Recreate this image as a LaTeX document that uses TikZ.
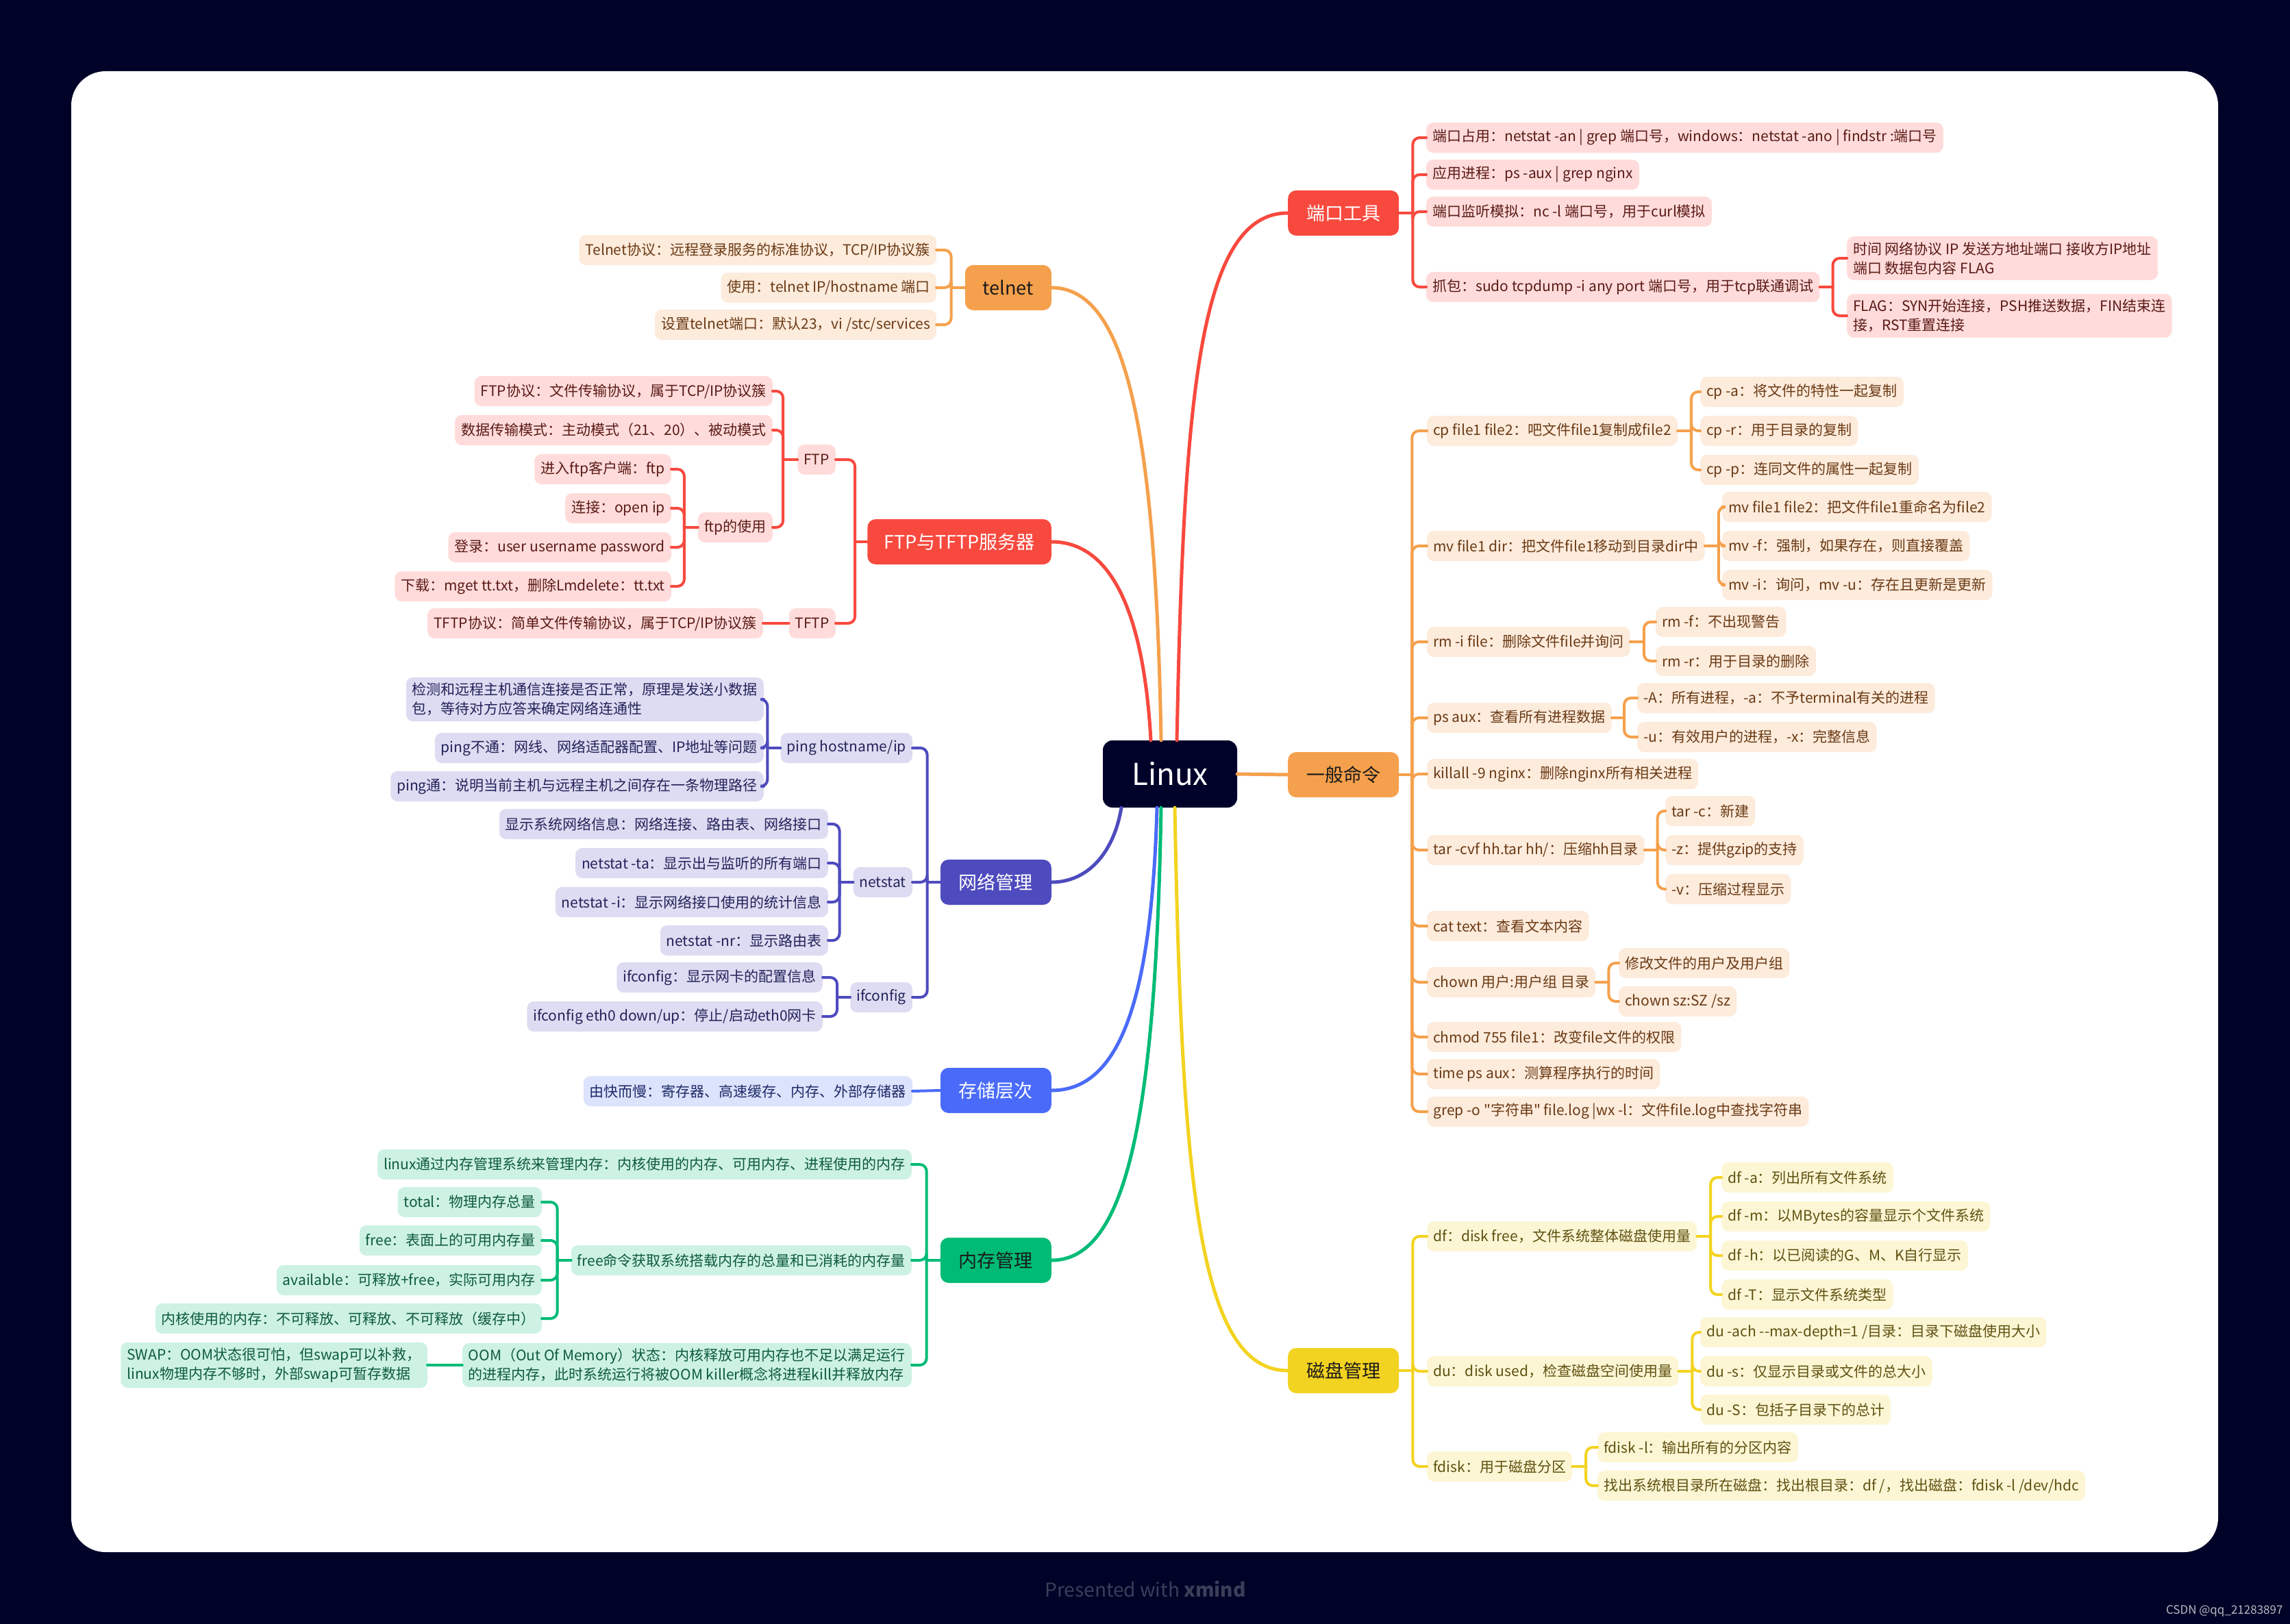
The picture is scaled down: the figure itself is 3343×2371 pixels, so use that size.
\documentclass[tikz,border=0pt]{standalone}
\usepackage{fontspec}
\setmainfont{Noto Sans CJK SC}[Ligatures=TeXOff]
\definecolor{bgnavy}{HTML}{000228}
\definecolor{rootc}{HTML}{00022A}
\definecolor{redm}{HTML}{F8493E}
\definecolor{redlt}{HTML}{FFDCDB}
\definecolor{redtx}{HTML}{5A1A16}
\definecolor{orgm}{HTML}{F5A04C}
\definecolor{orglt}{HTML}{FDEBDC}
\definecolor{orgtx}{HTML}{6A3A14}
\definecolor{yelm}{HTML}{F3D321}
\definecolor{yellt}{HTML}{FDF6D5}
\definecolor{yeltx}{HTML}{5E5110}
\definecolor{indm}{HTML}{4E4BBE}
\definecolor{indlt}{HTML}{DDDCF2}
\definecolor{indtx}{HTML}{23225A}
\definecolor{blum}{HTML}{4A6BF9}
\definecolor{blult}{HTML}{DCE3FD}
\definecolor{blutx}{HTML}{1E2A66}
\definecolor{grnm}{HTML}{00BB76}
\definecolor{grnlt}{HTML}{CDF2E4}
\definecolor{grntx}{HTML}{0E5A3C}
\definecolor{darktx}{HTML}{1A1A1A}
\definecolor{footgray}{HTML}{3B3E58}
\definecolor{csdngray}{HTML}{B8B8C0}
\tikzset{
    leaf/.style={rectangle, rounded corners=10pt, minimum height=44pt, inner xsep=9pt, inner ysep=8pt, align=left, font=\fontsize{21}{28}\selectfont},
    rleaf/.style={leaf, fill=redlt, text=redtx},
    oleaf/.style={leaf, fill=orglt, text=orgtx},
    yleaf/.style={leaf, fill=yellt, text=yeltx},
    ileaf/.style={leaf, fill=indlt, text=indtx},
    bleaf/.style={leaf, fill=blult, text=blutx},
    gleaf/.style={leaf, fill=grnlt, text=grntx},
    topic/.style={rectangle, rounded corners=12pt, minimum width=162pt, minimum height=66pt, inner xsep=24pt, font=\fontsize{27}{30}\selectfont},
    link/.style={line width=4pt, line cap=round, rounded corners=10pt},
    mainlink/.style={line width=5pt, line cap=round}
}
\begin{document}
\begin{tikzpicture}[x=1pt, y=-1pt]
    \useasboundingbox (0,0) rectangle (3343,2371);
    \fill[bgnavy] (0,0) rectangle (3343,2371);
    \fill[white, rounded corners=50pt] (104,104) rectangle (3238,2266);

    % root and main topics
    \node[fill=rootc, text=white, rounded corners=14pt, minimum width=196pt, minimum height=98pt, font=\fontsize{44}{48}\selectfont] (linux) at (1708,1130) {Linux};
    \node[topic, fill=redm, text=white, anchor=west] (port) at (1880,311) {端口工具};
    \node[topic, fill=orgm, text=darktx, anchor=west] (cmd) at (1880,1131) {一般命令};
    \node[topic, fill=yelm, text=darktx, anchor=west] (disk) at (1880,2001) {磁盘管理};
    \node[topic, fill=orgm, text=darktx, anchor=east, minimum width=126pt] (telnet) at (1535,420) {telnet};
    \node[topic, fill=redm, text=white, anchor=east] (ftp) at (1535,791) {FTP与TFTP服务器};
    \node[topic, fill=indm, text=white, anchor=east] (net) at (1535,1288) {网络管理};
    \node[topic, fill=blum, text=white, anchor=east] (store) at (1535,1592) {存储层次};
    \node[topic, fill=grnm, text=darktx, anchor=east] (mem) at (1535,1840) {内存管理};

    % 端口工具
    \node[rleaf, anchor=west] (port1) at (2082,201) {端口占用：netstat -an | grep 端口号，windows：netstat -ano | findstr :端口号};
    \node[rleaf, anchor=west] (port2) at (2082,255) {应用进程：ps -aux | grep nginx};
    \node[rleaf, anchor=west] (port3) at (2082,309) {端口监听模拟：nc -l 端口号，用于curl模拟};
    \node[rleaf, anchor=west] (port4) at (2082,419) {抓包：sudo tcpdump -i any port 端口号，用于tcp联通调试};
    \node[rleaf, anchor=west] (port4a) at (2696,377) {时间 网络协议 IP 发送方地址端口 接收方IP地址\\端口 数据包内容 FLAG};
    \node[rleaf, anchor=west] (port4b) at (2696,461) {FLAG：SYN开始连接，PSH推送数据，FIN结束连\\接，RST重置连接};

    % 一般命令
    \node[oleaf, anchor=west] (cmd1) at (2083,629) {cp file1 file2：吧文件file1复制成file2};
    \node[oleaf, anchor=west] (cmd1a) at (2482,572) {cp -a：将文件的特性一起复制};
    \node[oleaf, anchor=west] (cmd1b) at (2482,629) {cp -r：用于目录的复制};
    \node[oleaf, anchor=west] (cmd1c) at (2482,686) {cp -p：连同文件的属性一起复制};
    \node[oleaf, anchor=west] (cmd2) at (2083,797) {mv file1 dir：把文件file1移动到目录dir中};
    \node[oleaf, anchor=west] (cmd2a) at (2514,740) {mv file1 file2：把文件file1重命名为file2};
    \node[oleaf, anchor=west] (cmd2b) at (2514,797) {mv -f：强制，如果存在，则直接覆盖};
    \node[oleaf, anchor=west] (cmd2c) at (2514,854) {mv -i：询问，mv -u：存在且更新是更新};
    \node[oleaf, anchor=west] (cmd3) at (2083,937) {rm -i file：删除文件file并询问};
    \node[oleaf, anchor=west] (cmd3a) at (2417,908) {rm -f：不出现警告};
    \node[oleaf, anchor=west] (cmd3b) at (2417,965) {rm -r：用于目录的删除};
    \node[oleaf, anchor=west] (cmd4) at (2083,1048) {ps aux：查看所有进程数据};
    \node[oleaf, anchor=west] (cmd4a) at (2390,1019) {-A：所有进程，-a：不予terminal有关的进程};
    \node[oleaf, anchor=west] (cmd4b) at (2390,1076) {-u：有效用户的进程，-x：完整信息};
    \node[oleaf, anchor=west] (cmd5) at (2083,1130) {killall -9 nginx：删除nginx所有相关进程};
    \node[oleaf, anchor=west] (cmd6) at (2083,1241) {tar -cvf hh.tar hh/：压缩hh目录};
    \node[oleaf, anchor=west] (cmd6a) at (2431,1184) {tar -c：新建};
    \node[oleaf, anchor=west] (cmd6b) at (2431,1241) {-z：提供gzip的支持};
    \node[oleaf, anchor=west] (cmd6c) at (2431,1298) {-v：压缩过程显示};
    \node[oleaf, anchor=west] (cmd7) at (2083,1352) {cat text：查看文本内容};
    \node[oleaf, anchor=west] (cmd8) at (2083,1434) {chown 用户:用户组 目录};
    \node[oleaf, anchor=west] (cmd8a) at (2363,1406) {修改文件的用户及用户组};
    \node[oleaf, anchor=west] (cmd8b) at (2363,1462) {chown sz:SZ /sz};
    \node[oleaf, anchor=west] (cmd9) at (2083,1514) {chmod 755 file1：改变file文件的权限};
    \node[oleaf, anchor=west] (cmd10) at (2083,1568) {time ps aux：测算程序执行的时间};
    \node[oleaf, anchor=west] (cmd11) at (2083,1623) {grep -o "字符串" file.log |wx -l：文件file.log中查找字符串};

    % 磁盘管理
    \node[yleaf, anchor=west] (disk1) at (2083,1805) {df：disk free，文件系统整体磁盘使用量};
    \node[yleaf, anchor=west] (disk1a) at (2513,1719) {df -a：列出所有文件系统};
    \node[yleaf, anchor=west] (disk1b) at (2513,1776) {df -m：以MBytes的容量显示个文件系统};
    \node[yleaf, anchor=west] (disk1c) at (2513,1833) {df -h：以已阅读的G、M、K自行显示};
    \node[yleaf, anchor=west] (disk1d) at (2513,1890) {df -T：显示文件系统类型};
    \node[yleaf, anchor=west] (disk2) at (2083,2002) {du：disk used，检查磁盘空间使用量};
    \node[yleaf, anchor=west] (disk2a) at (2482,1945) {du -ach --max-depth=1 /目录：目录下磁盘使用大小};
    \node[yleaf, anchor=west] (disk2b) at (2482,2002) {du -s：仅显示目录或文件的总大小};
    \node[yleaf, anchor=west] (disk2c) at (2482,2058) {du -S：包括子目录下的总计};
    \node[yleaf, anchor=west] (disk3) at (2083,2141) {fdisk：用于磁盘分区};
    \node[yleaf, anchor=west] (disk3a) at (2332,2113) {fdisk -l：输出所有的分区内容};
    \node[yleaf, anchor=west] (disk3b) at (2332,2169) {找出系统根目录所在磁盘：找出根目录：df /，找出磁盘：fdisk -l /dev/hdc};

    % telnet
    \node[oleaf, anchor=east] (telnet1) at (1367,365) {Telnet协议：远程登录服务的标准协议，TCP/IP协议簇};
    \node[oleaf, anchor=east] (telnet2) at (1367,420) {使用：telnet IP/hostname 端口};
    \node[oleaf, anchor=east] (telnet3) at (1367,474) {设置telnet端口：默认23，vi /stc/services};

    % FTP与TFTP服务器
    \node[rleaf, anchor=east] (ftpA) at (1220,671) {FTP};
    \node[rleaf, anchor=east] (ftpA1) at (1128,571) {FTP协议：文件传输协议，属于TCP/IP协议簇};
    \node[rleaf, anchor=east] (ftpA2) at (1128,628) {数据传输模式：主动模式（21、20）、被动模式};
    \node[rleaf, anchor=east] (ftpA3) at (1128,770) {ftp的使用};
    \node[rleaf, anchor=east] (ftpA31) at (980,685) {进入ftp客户端：ftp};
    \node[rleaf, anchor=east] (ftpA32) at (980,742) {连接：open ip};
    \node[rleaf, anchor=east] (ftpA33) at (980,799) {登录：user username password};
    \node[rleaf, anchor=east] (ftpA34) at (980,856) {下载：mget tt.txt，删除Lmdelete：tt.txt};
    \node[rleaf, anchor=east] (ftpB) at (1220,910) {TFTP};
    \node[rleaf, anchor=east] (ftpB1) at (1114,910) {TFTP协议：简单文件传输协议，属于TCP/IP协议簇};

    % 网络管理
    \node[ileaf, anchor=east] (netA) at (1332,1092) {ping hostname/ip};
    \node[ileaf, anchor=east] (netA1) at (1115,1021) {检测和远程主机通信连接是否正常，原理是发送小数据\\包，等待对方应答来确定网络连通性};
    \node[ileaf, anchor=east] (netA2) at (1115,1092) {ping不通：网线、网络适配器配置、IP地址等问题};
    \node[ileaf, anchor=east] (netA3) at (1115,1148) {ping通：说明当前主机与远程主机之间存在一条物理路径};
    \node[ileaf, anchor=east] (netB) at (1332,1288) {netstat};
    \node[ileaf, anchor=east] (netB1) at (1209,1203) {显示系统网络信息：网络连接、路由表、网络接口};
    \node[ileaf, anchor=east] (netB2) at (1209,1260) {netstat -ta：显示出与监听的所有端口};
    \node[ileaf, anchor=east] (netB3) at (1209,1317) {netstat -i：显示网络接口使用的统计信息};
    \node[ileaf, anchor=east] (netB4) at (1209,1373) {netstat -nr：显示路由表};
    \node[ileaf, anchor=east] (netC) at (1332,1456) {ifconfig};
    \node[ileaf, anchor=east] (netC1) at (1201,1427) {ifconfig：显示网卡的配置信息};
    \node[ileaf, anchor=east] (netC2) at (1201,1484) {ifconfig eth0 down/up：停止/启动eth0网卡};

    % 存储层次
    \node[bleaf, anchor=east] (store1) at (1332,1593) {由快而慢：寄存器、高速缓存、内存、外部存储器};

    % 内存管理
    \node[gleaf, anchor=east] (mem1) at (1331,1700) {linux通过内存管理系统来管理内存：内核使用的内存、可用内存、进程使用的内存};
    \node[gleaf, anchor=east] (mem2) at (1331,1840) {free命令获取系统搭载内存的总量和已消耗的内存量};
    \node[gleaf, anchor=east] (mem2a) at (791,1755) {total：物理内存总量};
    \node[gleaf, anchor=east] (mem2b) at (791,1811) {free：表面上的可用内存量};
    \node[gleaf, anchor=east] (mem2c) at (791,1869) {available：可释放+free，实际可用内存};
    \node[gleaf, anchor=east] (mem2d) at (791,1925) {内核使用的内存：不可释放、可释放、不可释放（缓存中）};
    \node[gleaf, anchor=east] (mem3) at (1331,1993) {OOM（Out Of Memory）状态：内核释放可用内存也不足以满足运行\\的进程内存，此时系统运行将被OOM killer概念将进程kill并释放内存};
    \node[gleaf, anchor=east] (mem3a) at (624,1993) {SWAP：OOM状态很可怕，但swap可以补救，\\linux物理内存不够时，外部swap可暂存数据};

    % root links
    \draw[mainlink, draw=redm] ([xshift=10pt]linux.north) .. controls +(10,-500) and +(-130,0) .. (port.west);
    \draw[mainlink, draw=orgm] (linux.east) -- (cmd.west);
    \draw[mainlink, draw=yelm] ([xshift=7pt]linux.south) .. controls +(10,550) and +(-130,0) .. (disk.west);
    \draw[mainlink, draw=orgm] ([xshift=-13pt]linux.north) .. controls +(-8,-450) and +(110,0) .. (telnet.east);
    \draw[mainlink, draw=redm] ([xshift=-28pt]linux.north) .. controls +(-10,-180) and +(90,0) .. (ftp.east);
    \draw[mainlink, draw=indm] ([xshift=-71pt]linux.south) .. controls +(-12,70) and +(50,0) .. (net.east);
    \draw[mainlink, draw=blum] ([xshift=-19pt]linux.south) .. controls +(-8,280) and +(100,0) .. (store.east);
    \draw[mainlink, draw=grnm] ([xshift=-13pt]linux.south) .. controls +(-8,450) and +(110,0) .. (mem.east);

    % branch links, right side
    \draw[link, draw=redm] (port.east) -- ++(20,0) coordinate (port-j);
    \foreach \c in {port1,port2,port3,port4} \draw[link, draw=redm] (port-j) |- (\c.west);
    \draw[link, draw=redm] (port4.east) -- ++(19,0) coordinate (port4-j);
    \foreach \c in {port4a,port4b} \draw[link, draw=redm] (port4-j) |- (\c.west);

    \draw[link, draw=orgm] (cmd.east) -- ++(19,0) coordinate (cmd-j);
    \foreach \c in {cmd1,cmd2,cmd3,cmd4,cmd5,cmd6,cmd7,cmd8,cmd9,cmd10,cmd11} \draw[link, draw=orgm] (cmd-j) |- (\c.west);
    \draw[link, draw=orgm] (cmd1.east) -- ++(20,0) coordinate (cmd1-j);
    \foreach \c in {cmd1a,cmd1b,cmd1c} \draw[link, draw=orgm] (cmd1-j) |- (\c.west);
    \draw[link, draw=orgm] (cmd2.east) -- ++(20,0) coordinate (cmd2-j);
    \foreach \c in {cmd2a,cmd2b,cmd2c} \draw[link, draw=orgm] (cmd2-j) |- (\c.west);
    \draw[link, draw=orgm] (cmd3.east) -- ++(20,0) coordinate (cmd3-j);
    \foreach \c in {cmd3a,cmd3b} \draw[link, draw=orgm] (cmd3-j) |- (\c.west);
    \draw[link, draw=orgm] (cmd4.east) -- ++(18,0) coordinate (cmd4-j);
    \foreach \c in {cmd4a,cmd4b} \draw[link, draw=orgm] (cmd4-j) |- (\c.west);
    \draw[link, draw=orgm] (cmd6.east) -- ++(19,0) coordinate (cmd6-j);
    \foreach \c in {cmd6a,cmd6b,cmd6c} \draw[link, draw=orgm] (cmd6-j) |- (\c.west);
    \draw[link, draw=orgm] (cmd8.east) -- ++(19,0) coordinate (cmd8-j);
    \foreach \c in {cmd8a,cmd8b} \draw[link, draw=orgm] (cmd8-j) |- (\c.west);

    \draw[link, draw=yelm] (disk.east) -- ++(20,0) coordinate (disk-j);
    \foreach \c in {disk1,disk2,disk3} \draw[link, draw=yelm] (disk-j) |- (\c.west);
    \draw[link, draw=yelm] (disk1.east) -- ++(20,0) coordinate (disk1-j);
    \foreach \c in {disk1a,disk1b,disk1c,disk1d} \draw[link, draw=yelm] (disk1-j) |- (\c.west);
    \draw[link, draw=yelm] (disk2.east) -- ++(20,0) coordinate (disk2-j);
    \foreach \c in {disk2a,disk2b,disk2c} \draw[link, draw=yelm] (disk2-j) |- (\c.west);
    \draw[link, draw=yelm] (disk3.east) -- ++(20,0) coordinate (disk3-j);
    \foreach \c in {disk3a,disk3b} \draw[link, draw=yelm] (disk3-j) |- (\c.west);

    % branch links, left side
    \draw[link, draw=orgm] (telnet.west) -- ++(-20,0) coordinate (telnet-j);
    \foreach \c in {telnet1,telnet2,telnet3} \draw[link, draw=orgm] (telnet-j) |- (\c.east);

    \draw[link, draw=redm] (ftp.west) -- ++(-18,0) coordinate (ftp-j);
    \foreach \c in {ftpA,ftpB} \draw[link, draw=redm] (ftp-j) |- (\c.east);
    \draw[link, draw=redm] (ftpA.west) -- ++(-21,0) coordinate (ftpA-j);
    \foreach \c in {ftpA1,ftpA2,ftpA3} \draw[link, draw=redm] (ftpA-j) |- (\c.east);
    \draw[link, draw=redm] (ftpA3.west) -- ++(-20,0) coordinate (ftpA3-j);
    \foreach \c in {ftpA31,ftpA32,ftpA33,ftpA34} \draw[link, draw=redm] (ftpA3-j) |- (\c.east);
    \draw[link, draw=redm] (ftpB.west) -- (ftpB1.east);

    \draw[link, draw=indm] (net.west) -- ++(-19,0) coordinate (net-j);
    \foreach \c in {netA,netB,netC} \draw[link, draw=indm] (net-j) |- (\c.east);
    \draw[link, draw=indm] (netA.west) -- ++(-19,0) coordinate (netA-j);
    \foreach \c in {netA1,netA2,netA3} \draw[link, draw=indm] (netA-j) |- (\c.east);
    \draw[link, draw=indm] (netB.west) -- ++(-20,0) coordinate (netB-j);
    \foreach \c in {netB1,netB2,netB3,netB4} \draw[link, draw=indm] (netB-j) |- (\c.east);
    \draw[link, draw=indm] (netC.west) -- ++(-19,0) coordinate (netC-j);
    \foreach \c in {netC1,netC2} \draw[link, draw=indm] (netC-j) |- (\c.east);

    \draw[link, draw=blum] (store.west) -- (store1.east);

    \draw[link, draw=grnm] (mem.west) -- ++(-20,0) coordinate (mem-j);
    \foreach \c in {mem1,mem2,mem3} \draw[link, draw=grnm] (mem-j) |- (\c.east);
    \draw[link, draw=grnm] (mem2.west) -- ++(-20,0) coordinate (mem2-j);
    \foreach \c in {mem2a,mem2b,mem2c,mem2d} \draw[link, draw=grnm] (mem2-j) |- (\c.east);
    \draw[link, draw=grnm] (mem3.west) -- (mem3a.east);

    % footer
    \node[font=\fontsize{28}{30}\selectfont, text=footgray] (footer) at (1672,2320) {Presented with \textbf{xmind}};
    \node[anchor=east, font=\fontsize{17}{18}\selectfont, text=csdngray] (csdn) at (3336,2352) {CSDN @qq\_21283897};
\end{tikzpicture}
\end{document}
